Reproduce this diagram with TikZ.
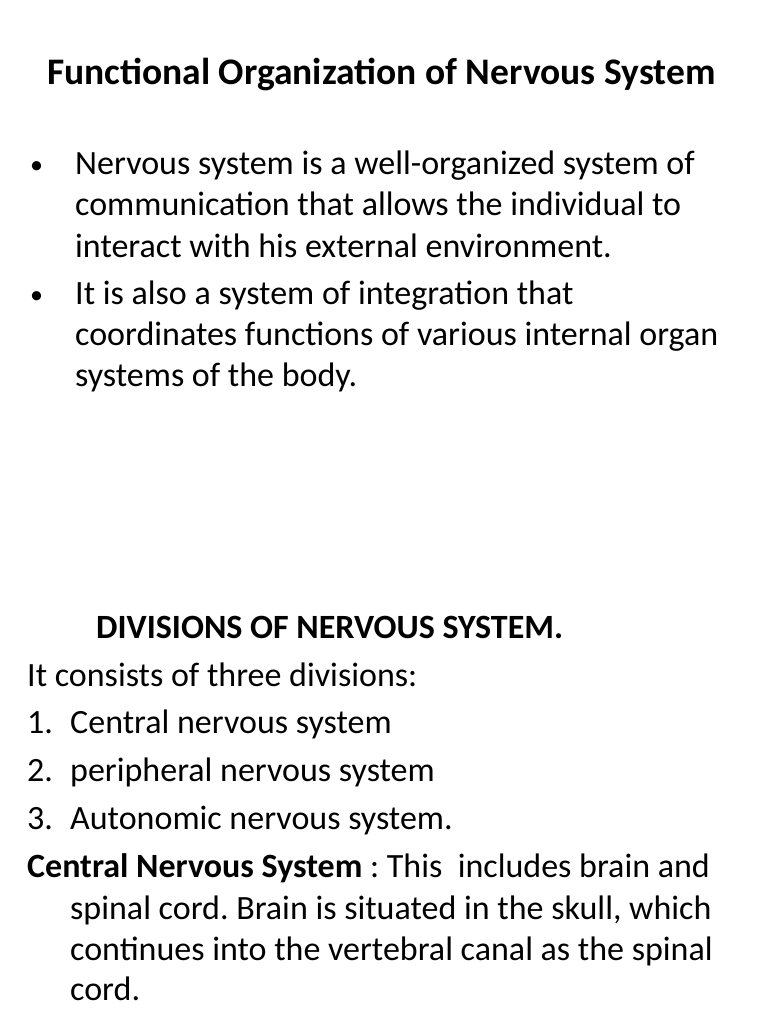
\documentclass[tikz,border=0pt]{standalone}
\usepackage{fontspec}
\setmainfont{Carlito}
\frenchspacing
\tikzset{
  txt/.style={anchor=base west, inner sep=0pt, font=\fontsize{34}{40}\selectfont},
  ttl/.style={txt, font=\fontsize{34}{40}\selectfont\bfseries}
}
\begin{document}
\begin{tikzpicture}[x=1pt,y=-1pt]
  \useasboundingbox [fill=white] (0,0) rectangle (768,1024);
  % title
  \node [ttl, font=\fontsize{37.5}{44}\selectfont\bfseries] (title) at (47,85) {Functional Organization of Nervous System};
  % bullets
  \foreach \y in {174,303}
    \node [txt, font=\fontsize{26}{30}\selectfont] at (30,\y) {\textbullet};
  \node [txt] (b1a) at (75,175) {Nervous system is a well-organized system of};
  \node [txt] (b1b) at (75,216) {communication that allows the individual to};
  \node [txt] (b1c) at (75,257) {interact with his external environment.};
  \node [txt] (b2a) at (75,304) {It is also a system of integration that};
  \node [txt] (b2b) at (75,345) {coordinates functions of various internal organ};
  \node [txt] (b2c) at (75,386) {systems of the body.};
  % divisions
  \node [ttl] (div) at (96,638) {DIVISIONS OF NERVOUS SYSTEM.};
  \node [txt] (cons) at (27,686) {It consists of three divisions:};
  \foreach \n/\t [count=\i] in {1./Central nervous system,2./peripheral nervous system,3./Autonomic nervous system.}
  {
    \node [txt] (num\i) at (27,685+48*\i) {\n};
    \node [txt] (item\i) at (70,685+48*\i) {\t};
  }
  \node [txt] (cns) at (27,877) {\textbf{Central Nervous System} : This\ \ includes brain and};
  \node [txt] (cnsb) at (70,919) {spinal cord. Brain is situated in the skull, which};
  \node [txt] (cnsc) at (70,960) {continues into the vertebral canal as the spinal};
  \node [txt] (cnsd) at (70,1000) {cord.};
\end{tikzpicture}
\end{document}
